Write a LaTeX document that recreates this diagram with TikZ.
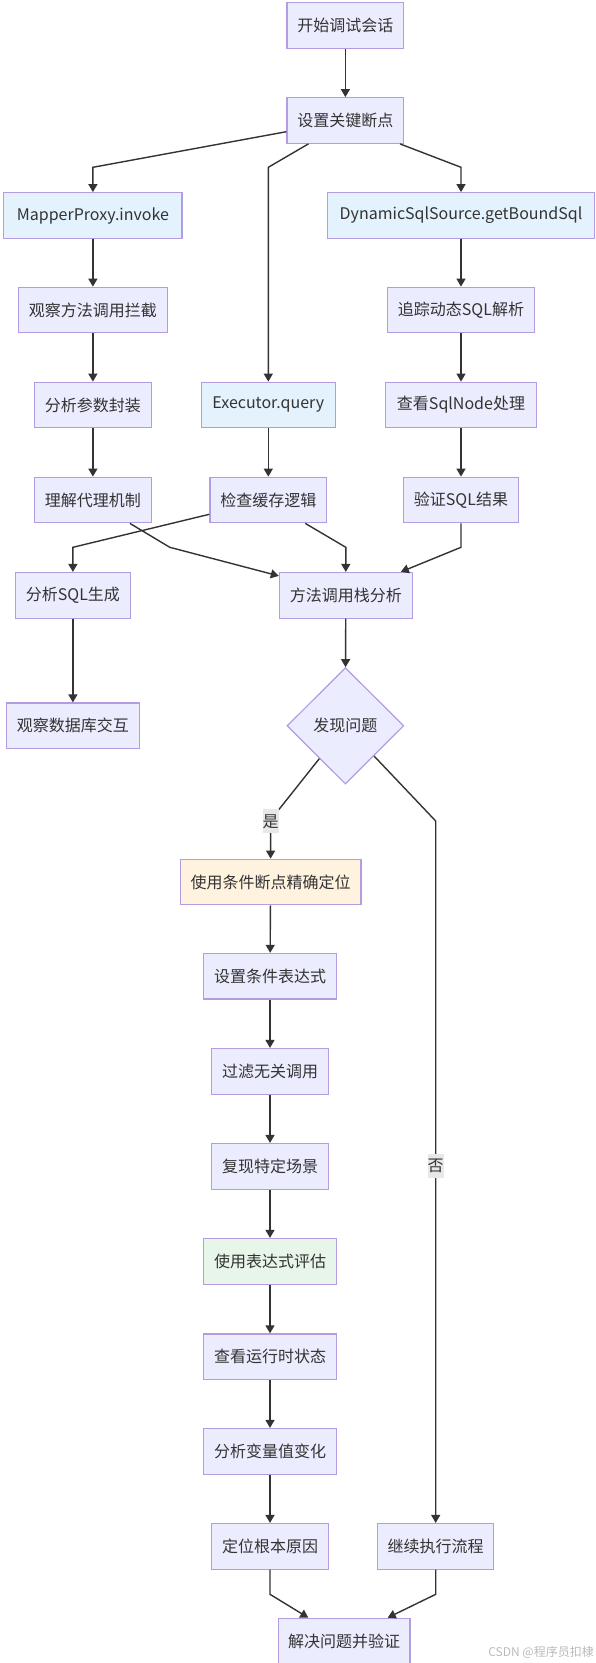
\documentclass[tikz,border=0pt]{standalone}
\usepackage{fontspec}
\setmainfont{Noto Sans CJK SC}
\usetikzlibrary{arrows.meta,shapes.geometric}
\definecolor{nodefill}{HTML}{ECECFF}
\definecolor{nodestroke}{HTML}{B29CE2}
\definecolor{bluefill}{HTML}{E3F2FD}
\definecolor{orangefill}{HTML}{FFF3E0}
\definecolor{greenfill}{HTML}{E8F5E9}
\definecolor{edgecol}{HTML}{333333}
\definecolor{labelbg}{HTML}{E8E8E8}
\definecolor{wmcol}{HTML}{BBBBBB}
\tikzset{
  box/.style={draw=nodestroke, line width=1.2pt, fill=nodefill, minimum height=45.6pt,
    inner sep=0pt, text=edgecol, font=\fontsize{16}{19}\selectfont},
  bluebox/.style={box, fill=bluefill},
  orangebox/.style={box, fill=orangefill},
  greenbox/.style={box, fill=greenfill},
  dia/.style={box, shape=diamond, minimum width=116.8pt, minimum height=116.4pt},
  edge/.style={draw=edgecol, line width=1.4pt, -{Triangle[length=8pt,width=9pt]}},
  elabel/.style={fill=labelbg, inner sep=0pt, minimum width=16pt, minimum height=24pt,
    text=edgecol, font=\fontsize{16}{19}\selectfont},
  wm/.style={text=wmcol, font=\fontsize{12}{14}\selectfont, inner sep=0pt, anchor=east}
}
\begin{document}
\begin{tikzpicture}[x=1pt,y=-1pt]
\useasboundingbox (0,0) rectangle (596,1663);
\fill[white] (0,0) rectangle (596,1663);

% nodes
\node[box, minimum width=116.8pt] (start) at (345.4,25.5) {开始调试会话};
\node[box, minimum width=116.8pt] (set) at (345.4,120.5) {设置关键断点};
\node[bluebox, minimum width=178.2pt] (mapper) at (92.9,215.5) {MapperProxy.invoke};
\node[bluebox, minimum width=267.2pt] (dyn) at (461,215.5) {DynamicSqlSource.getBoundSql};
\node[box, minimum width=149pt] (obs) at (92.9,310) {观察方法调用拦截};
\node[box, minimum width=147pt] (trace) at (461,310) {追踪动态SQL解析};
\node[box, minimum width=116.8pt] (param) at (92.9,405) {分析参数封装};
\node[bluebox, minimum width=134.4pt] (exec) at (268.3,405) {Executor.query};
\node[box, minimum width=151pt] (sqlnode) at (461,405) {查看SqlNode处理};
\node[box, minimum width=116.8pt] (proxy) at (92.9,500) {理解代理机制};
\node[box, minimum width=116.8pt] (cache) at (268.3,500) {检查缓存逻辑};
\node[box, minimum width=115pt] (verify) at (461,500) {验证SQL结果};
\node[box, minimum width=115.2pt] (sqlgen) at (72.9,595.3) {分析SQL生成};
\node[box, minimum width=132.8pt] (stack) at (345.8,595.3) {方法调用栈分析};
\node[box, minimum width=132.8pt] (db) at (72.9,725.8) {观察数据库交互};
\node[dia] (found) at (345.4,725.8) {发现问题};
\node[orangebox, minimum width=180.8pt] (cond) at (270.6,882) {使用条件断点精确定位};
\node[box, minimum width=132.7pt] (expr) at (270,976.2) {设置条件表达式};
\node[box, minimum width=117pt] (filter) at (270,1071.3) {过滤无关调用};
\node[box, minimum width=117pt] (repro) at (270,1166.3) {复现特定场景};
\node[greenbox, minimum width=132.7pt] (eval) at (270,1261.3) {使用表达式评估};
\node[box, minimum width=132.7pt] (runtime) at (270,1356.7) {查看运行时状态};
\node[box, minimum width=132.7pt] (varchg) at (270,1451.3) {分析变量值变化};
\node[box, minimum width=116.7pt] (root) at (270,1546.3) {定位根本原因};
\node[box, minimum width=116pt] (cont) at (435.7,1546.3) {继续执行流程};
\node[box, minimum width=131.7pt] (solve) at (344.2,1641.1) {解决问题并验证};

% bend coordinates
\coordinate (bm) at (92.9,167.3);
\coordinate (be) at (268.3,167.3);
\coordinate (bd) at (461,167.3);
\coordinate (bsg) at (72.9,547.3);
\coordinate (bpx) at (169.8,547.3);
\coordinate (bcs) at (345.8,547.3);
\coordinate (bvs) at (461,547.3);
\coordinate (byes) at (270.6,820);
\coordinate (bno) at (435.7,821);
\coordinate (brs) at (270,1594.3);
\coordinate (bcs2) at (435.7,1594.3);

% edges
\draw[edge] (start) -- (set);
\draw[edge] ([yshift=-11.2pt]set.west) -- (bm) -- (mapper);
\draw[edge] ([xshift=-37pt]set.south) -- (be) -- (exec);
\draw[edge] ([xshift=54.6pt]set.south) -- (bd) -- (dyn);
\draw[edge] (mapper) -- (obs);
\draw[edge] (obs) -- (param);
\draw[edge] (param) -- (proxy);
\draw[edge] (dyn) -- (trace);
\draw[edge] (trace) -- (sqlnode);
\draw[edge] (sqlnode) -- (verify);
\draw[edge] (exec) -- (cache);
\draw[edge] ([yshift=-14.3pt]cache.west) -- (bsg) -- (sqlgen);
\draw[edge] ([xshift=37pt]proxy.south) -- (bpx) -- ([yshift=-4pt]stack.north west);
\draw[edge] ([xshift=37pt]cache.south) -- (bcs) -- (stack);
\draw[edge] (verify) -- (bvs) -- ([xshift=55pt]stack.north);
\draw[edge] (sqlgen) -- (db);
\draw[edge] (stack) -- (found);
\draw[edge] (found) -- (byes) -- (cond);
\draw[edge] (found) -- (bno) -- (cont);
\draw[edge] (cond) -- (expr);
\draw[edge] (expr) -- (filter);
\draw[edge] (filter) -- (repro);
\draw[edge] (repro) -- (eval);
\draw[edge] (eval) -- (runtime);
\draw[edge] (runtime) -- (varchg);
\draw[edge] (varchg) -- (root);
\draw[edge] (root) -- (brs) -- ([xshift=-35.9pt]solve.north);
\draw[edge] (cont) -- (bcs2) -- ([xshift=43.5pt]solve.north);

% edge labels
\node[elabel] (lyes) at (270.6,821.3) {是};
\node[elabel] (lno) at (435.7,1166) {否};

% watermark
\node[wm] (mark) at (594,1652.5) {CSDN @程序员扣棣};
\end{tikzpicture}
\end{document}
